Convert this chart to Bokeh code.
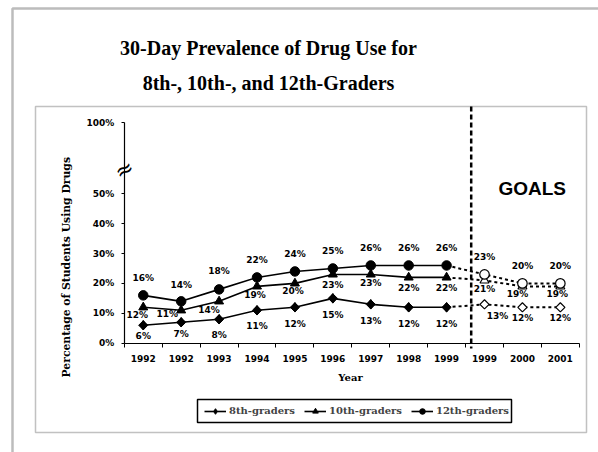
import numpy as np
from bokeh.plotting import figure
from bokeh.models import (Range1d, FixedTicker, Label, BoxAnnotation,
                          Legend, LegendItem, LinearAxis)
from bokeh.core.properties import value
from bokeh.embed import file_html
from bokeh.resources import INLINE

# ---------------- data ----------------
years = ["1992", "1992", "1993", "1994", "1995", "1996", "1997", "1998", "1999",
         "1999", "2000", "2001"]
grade12 = [16, 14, 18, 22, 24, 25, 26, 26, 26]
grade10 = [12, 11, 14, 19, 20, 23, 23, 22, 22]
grade8 = [6, 7, 8, 11, 12, 15, 13, 12, 12]
goal12 = [23, 20, 20]
goal10 = [21, 19, 19]
goal8 = [13, 12, 12]
y_ticks = [0, 10, 20, 30, 40, 50]
y_tick_labels = ["0%", "10%", "20%", "30%", "40%", "50%"]
top_tick_label = "100%"

# ---------------- geometry (canvas = frame) ----------------
W, H = 598, 452
X0, Y0 = 123.8, 342.7        # canvas position of data origin
XS, YS = 455 / 12.0, 2.99    # pixels per category / per percent
TOP_POS = 73.7               # where the "100%" tick sits above the break


def ix(px):  # canvas x -> data x
    return (px - X0) / XS


def iy(py):  # canvas y -> data y
    return (Y0 - py) / YS


p = figure(width=W, height=H,
           x_range=Range1d(-X0 / XS, (W - X0) / XS),
           y_range=Range1d(-(H - Y0) / YS, Y0 / YS),
           output_backend="svg", toolbar_location=None,
           min_border_left=0, min_border_right=0, min_border_top=0, min_border_bottom=0,
           x_axis_type=None, y_axis_type=None)
p.outline_line_color = None
p.xgrid.visible = False
p.ygrid.visible = False
p.background_fill_color = "white"
p.border_fill_color = "white"

TICK_FONT = "DejaVu Sans"

# x axis
n = len(years)
centers = [i + 0.5 for i in range(n)]
xaxis = LinearAxis(ticker=FixedTicker(ticks=centers, minor_ticks=list(range(n + 1))),
                   major_label_overrides={c: y for c, y in zip(centers, years)},
                   fixed_location=0, bounds=(0, n))
xaxis.major_tick_out = 0
xaxis.major_tick_in = 0
xaxis.minor_tick_out = 4
xaxis.minor_tick_in = 0
xaxis.axis_line_width = 1.2
xaxis.major_label_standoff = 8
xaxis.major_label_text_font = TICK_FONT
xaxis.major_label_text_font_style = "bold"
xaxis.major_label_text_font_size = "9px"
xaxis.major_label_text_color = "black"
p.add_layout(xaxis, "below")

# y axis
yaxis = LinearAxis(ticker=FixedTicker(ticks=y_ticks + [TOP_POS]),
                   major_label_overrides={**{t: l for t, l in zip(y_ticks, y_tick_labels)},
                                          TOP_POS: top_tick_label},
                   fixed_location=0, bounds=(0, TOP_POS))
yaxis.major_tick_out = 3
yaxis.major_tick_in = 0
yaxis.minor_tick_out = 0
yaxis.minor_tick_in = 0
yaxis.axis_line_width = 1.2
yaxis.major_label_standoff = 7
yaxis.major_label_text_font = TICK_FONT
yaxis.major_label_text_font_style = "bold"
yaxis.major_label_text_font_size = "9px"
yaxis.major_label_text_color = "black"
p.add_layout(yaxis, "left")

# axis break
p.add_layout(Label(x=0, y=iy(169), text="≈", text_font="DejaVu Sans",
                   text_font_size="22px", text_align="center", text_baseline="middle",
                   angle=0.5, text_color="black"))

# dashed divider between actual data and goals
p.segment(x0=[ix(470.7)], y0=[iy(106)], x1=[ix(470.7)], y1=[iy(348)],
          line_color="black", line_width=2.5, line_dash="5 3")

# series
series = [
    ("8th-graders", grade8, goal8, "square", np.pi / 4, 6.5,
     [0, 0, 0, 0, 0, 0, 0, 0, 0, 13, 0, 0],
     [11, 12, 16, 16, 17, 17, 17, 17, 17, 12, 11, 11]),
    ("10th-graders", grade10, goal10, "triangle", 0, 9,
     [-6, -14, -10, -2, -2, 0, 0, 0, 0, 0, -5, -3],
     [8, 4, 9, 9, 8, 11, 9, 11, 11, 9, 8, 8]),
    ("12th-graders", grade12, goal12, "circle", 0, 9.5,
     [0] * 12,
     [-17, -16, -18, -17, -17, -17, -17, -17, -17, -17, -17, -17]),
]

legend_items = []
for name, actual, goal, marker, ang, size, dxs, dys in series:
    xa = centers[:len(actual)]
    xg = centers[len(actual):]
    line = p.line(xa, actual, line_color="black", line_width=1.6)
    key = None
    if ang:
        # legend keys ignore rotation: a diamond key hidden under the rotated squares
        key = p.scatter(xa, actual, marker="diamond", size=9.5,
                        fill_color="black", line_color="black")
    pts = p.scatter(xa, actual, marker=marker, angle=ang, size=size,
                    fill_color="black", line_color="black")
    if key is None:
        key = pts
    p.line([xa[-1]] + xg, [actual[-1]] + goal, line_color="black", line_width=2,
           line_dash="3 3")
    p.scatter(xg, goal, marker=marker, angle=ang, size=size,
              fill_color="white", line_color="black", line_width=1.2)
    vals = actual + goal
    p.text(centers, vals, text=[f"{v}%" for v in vals], x_offset=dxs, y_offset=dys,
           text_font=value(TICK_FONT), text_font_style="bold", text_font_size="9px",
           text_align="center", text_baseline="middle", text_color="black")
    legend_items.append(LegendItem(label=name, renderers=[line, key]))

# legend frame drawn as a plain rectangle, legend items without border
p.quad(left=[ix(197)], right=[ix(511)], top=[iy(399)], bottom=[iy(422)],
       fill_alpha=0, line_color="black", line_width=1.5)
legend = Legend(items=legend_items, orientation="horizontal",
                location=(204, H - 417.5), margin=0, padding=0, spacing=9,
                glyph_width=22, glyph_height=14, label_standoff=3,
                border_line_color=None, background_fill_alpha=0,
                label_text_font="DejaVu Serif", label_text_font_style="bold",
                label_text_font_size="10px", label_height=14)
p.add_layout(legend, "center")

# GOALS text
p.add_layout(Label(x=ix(531.7), y=iy(188.3), text="GOALS", text_font="Liberation Sans",
                   text_font_style="bold", text_font_size="19px", text_align="center",
                   text_baseline="middle", text_color="black"))

# titles
for txt, yy in [("30-Day Prevalence of Drug Use for", 47),
                ("8th-, 10th-, and 12th-Graders", 82)]:
    p.add_layout(Label(x=ix(268), y=iy(yy), text=txt, text_font="Liberation Serif",
                       text_font_style="bold", text_font_size="20px", text_align="center",
                       text_baseline="alphabetic", text_color="black"))

# axis titles
p.add_layout(Label(x=ix(66), y=iy(377), text="Percentage of Students Using Drugs",
                   text_font="DejaVu Serif", text_font_style="bold",
                   text_font_size="10.8px", angle=np.pi / 2, text_align="left",
                   text_baseline="middle", text_color="black"))
p.add_layout(Label(x=ix(350), y=iy(377), text="Year", text_font="DejaVu Serif",
                   text_font_style="bold", text_font_size="10px", text_align="center",
                   text_baseline="middle", text_color="black"))

# chart box and slide frame
p.add_layout(BoxAnnotation(left=ix(35), right=ix(586), top=iy(106), bottom=iy(432),
                           fill_alpha=0, line_color="#333333", line_width=1.5,
                           level="underlay"))
p.add_layout(BoxAnnotation(left=ix(12), right=ix(700), top=iy(8), bottom=iy(700),
                           fill_alpha=0, line_color="#222222", line_width=2.5,
                           level="underlay"))

open("out.html", "w").write(file_html(p, INLINE))
